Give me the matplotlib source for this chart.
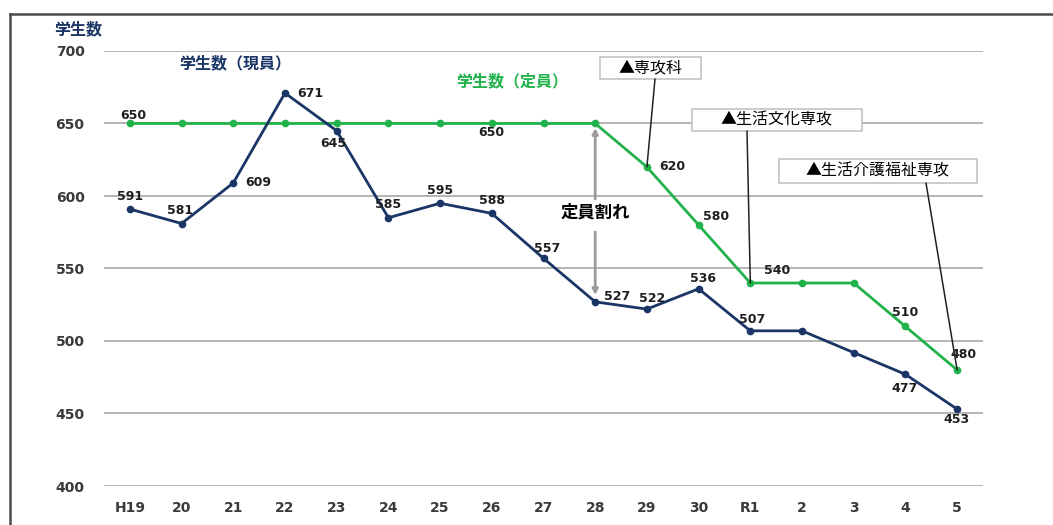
import matplotlib
matplotlib.use("Agg")
import matplotlib.pyplot as plt
from matplotlib.lines import Line2D
from matplotlib.patches import Rectangle

plt.rcParams['font.family'] = ['Noto Sans CJK JP', 'DejaVu Sans']

categories = ["H19", "20", "21", "22", "23", "24", "25", "26", "27", "28",
              "29", "30", "R1", "2", "3", "4", "5"]
current = [591, 581, 609, 671, 645, 585, 595, 588, 557, 527, 522, 536, 507, 507, 492, 477, 453]
capacity = [650, 650, 650, 650, 650, 650, 650, 650, 650, 650, 620, 580, 540, 540, 540, 510, 480]
yticks = [400, 450, 500, 550, 600, 650, 700]

# which points get labels and where (offset in px: dx, dy up)
cur_labels = {0: (0, 13), 1: (-1, 13), 2: (25, 0), 3: (25, 0), 4: (-3, -13),
              5: (0, 13), 6: (0, 13), 7: (0, 13), 8: (4, 10), 9: (22, 5),
              10: (5, 11), 11: (4, 10), 12: (2, 11), 15: (-1, -14), 16: (-1, -10)}
cap_labels = {0: (3, 8), 7: (0, -9), 10: (25, 0), 11: (17, 8), 12: (27, 12),
              15: (0, 14), 16: (6, 16)}

NAVY = "#1a3566"
GREEN = "#22b24c"
TXT = "#1e1e1e"
NUMFONT = ['DejaVu Sans']

fig = plt.figure(figsize=(10.53, 5.25), dpi=100)
ax = fig.add_axes([104/1053, 1-486/525, (983-104)/1053, (486-51)/525])

x = list(range(len(categories)))
ax.plot(x, capacity, color=GREEN, lw=2, marker='o', ms=4.5, zorder=3)
ax.plot(x, current, color=NAVY, lw=2, marker='o', ms=4.5, zorder=4)

ax.set_xlim(-0.5, len(categories) - 0.5)
ax.set_ylim(400, 700)
ax.set_yticks(yticks)
ax.set_xticks(x)
ax.set_xticklabels(categories)
ax.grid(axis='y', color='#b4b4b4', lw=1.4)
ax.set_axisbelow(True)
for s in ax.spines.values():
    s.set_visible(False)
ax.tick_params(length=0, labelsize=10, labelcolor='#3a3a3a')
ax.tick_params(axis='y', pad=14)
ax.tick_params(axis='x', pad=11)
for lab in ax.get_xticklabels() + ax.get_yticklabels():
    lab.set_family(NUMFONT)
    lab.set_fontweight('bold')

PX = 0.72
for i, (dx, dy) in cur_labels.items():
    ax.annotate(str(current[i]), (i, current[i]), xytext=(dx*PX, dy*PX),
                textcoords='offset points', ha='center', va='center',
                fontsize=9, fontweight='bold', color=TXT, family=NUMFONT, zorder=6)
for i, (dx, dy) in cap_labels.items():
    ax.annotate(str(capacity[i]), (i, capacity[i]), xytext=(dx*PX, dy*PX),
                textcoords='offset points', ha='center', va='center',
                fontsize=9, fontweight='bold', color=TXT, family=NUMFONT, zorder=6)

# series titles
ax.text(2.03, 691.7, "学生数（現員）", color=NAVY, fontsize=11.5, fontweight='bold',
        ha='center', va='center')
ax.text(7.39, 679.3, "学生数（定員）", color=GREEN, fontsize=11.5, fontweight='bold',
        ha='center', va='center')
fig.text(78/1053, 1-29/525, "学生数", color=NAVY, fontsize=11.5, fontweight='bold',
         ha='center', va='center')

# shortfall arrow
ax.annotate("", xy=(9, 646.9), xytext=(9, 598),
            arrowprops=dict(arrowstyle='-|>', color='#9a9a9a', lw=2,
                            mutation_scale=8, shrinkA=0, shrinkB=0), zorder=2)
ax.annotate("", xy=(9, 531.7), xytext=(9, 575.2),
            arrowprops=dict(arrowstyle='-|>', color='#9a9a9a', lw=2,
                            mutation_scale=8, shrinkA=0, shrinkB=0), zorder=2)
ax.text(9.0, 588.3, "定員割れ", color='black', fontsize=12.5, fontweight='bold',
        ha='center', va='center')

# callouts: text, point index, box (left, right, top, bottom) in px, line start x px
def px2x(p):
    return (p - 104) / ((983 - 104) / 17) - 0.5

def px2y(p):
    return 700 - (p - 51) / ((486 - 51) / 300)

callouts = [("▲専攻科", 10, (600, 701, 57, 79), 655),
            ("▲生活文化専攻", 12, (692, 862, 109, 131), 747),
            ("▲生活介護福祉専攻", 16, (779, 977, 159, 183), 926)]
for txt, idx, (l, r, t, b), lx in callouts:
    x0, x1, y0, y1 = px2x(l), px2x(r), px2y(b), px2y(t)
    ax.add_patch(Rectangle((x0, y0), x1 - x0, y1 - y0, fc='white', ec='#c4c4c4',
                           lw=1.2, zorder=7))
    ax.text((x0 + x1) / 2, (y0 + y1) / 2, txt, ha='center', va='center',
            fontsize=11.5, color='black', zorder=8)
    ax.annotate("", xy=(idx, capacity[idx]), xytext=(px2x(lx), y0),
                arrowprops=dict(arrowstyle='-', color='#222222', lw=1.1,
                                shrinkA=0, shrinkB=0), zorder=7)

# outer frame (top and left)
fig.add_artist(Line2D([10/1053, 1.0], [1-14/525, 1-14/525], color='#4a4a4a', lw=1.8,
                      transform=fig.transFigure))
fig.add_artist(Line2D([10/1053, 10/1053], [0, 1-14/525], color='#4a4a4a', lw=1.8,
                      transform=fig.transFigure))

fig.savefig("out.png", dpi=100)
